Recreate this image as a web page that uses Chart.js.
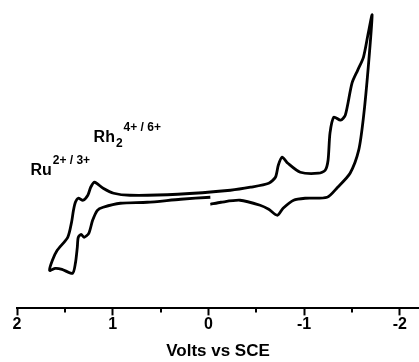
<!DOCTYPE html>
<html>
<head>
<meta charset="utf-8">
<script src="https://cdn.jsdelivr.net/npm/chart.js@4/dist/chart.umd.min.js"></script>
<style>
  html, body { margin: 0; padding: 0; background: #fff; }
  #wrap { width: 419px; height: 362px; }
</style>
</head>
<body>
<div id="wrap"><canvas id="cv" width="419" height="362"></canvas></div>
<script>
// ── data (potential in V vs SCE, current in arbitrary units) ─────────────────
const potential = [
  -0.02, -0.13, -0.33, -0.54, -0.63, -0.72, -0.78, -0.89, -1.01, -1.24, -1.35, -1.48, -1.57, -1.62, -1.67, -1.71,
  -1.67, -1.62, -1.56, -1.50, -1.43, -1.38, -1.31, -1.27, -1.25, -1.22, -1.15, -0.96, -0.83, -0.77, -0.73, -0.70,
  -0.63, -0.44, -0.23, 0.32, 0.82, 0.99, 1.10, 1.19, 1.23, 1.26, 1.31, 1.36, 1.39, 1.41, 1.43, 1.47, 1.58, 1.63, 1.66,
  1.60, 1.53, 1.42, 1.39, 1.37, 1.36, 1.33, 1.30, 1.25, 1.21, 1.16, 1.10, 0.92, 0.64, 0.29, -0.02
];
const current = [
  10.4, 10.6, 10.8, 10.3, 9.9, 9.3, 10.0, 10.8, 11.0, 11.1, 12.1, 13.5, 15.8, 19.1, 24.1, 29.3,
  27.5, 25.1, 23.8, 22.5, 19.3, 18.8, 19.1, 17.5, 14.8, 13.8, 13.5, 13.6, 14.5, 15.1, 14.3, 13.1,
  12.5, 12.1, 11.8, 11.4, 11.3, 11.5, 12.0, 12.6, 12.1, 11.3, 10.8, 11.0, 10.6, 9.8, 8.6, 7.1, 5.8, 4.8, 3.8,
  4.0, 3.9, 3.5, 4.5, 6.1, 7.1, 7.4, 7.1, 7.5, 8.8, 9.8, 10.1, 10.5, 10.6, 10.9, 11.1
];
const xTickStep = 0.5;
const xMin = -2.2, xMax = 2;
const axisTitle = 'Volts vs SCE';

// peak labels: base, subscript, superscript, anchored at (V, I)
const labelText = [
  { base: 'Ru', sub: '', sup: '2+ / 3+', v: 1.86, i: 13.3 },
  { base: 'Rh', sub: '2', sup: '4+ / 6+', v: 1.20, i: 16.6 }
];

const FONT = '"Liberation Sans", Arial, sans-serif';
const isWhole = v => Math.abs(v - Math.round(v)) < 1e-6;

// ── plugins ──────────────────────────────────────────────────────────────────
const minorTicks = {
  id: 'minorTicks',
  afterDraw(chart) {
    const sx = chart.scales.x, ctx = chart.ctx, y0 = chart.chartArea.bottom;
    ctx.save();
    ctx.strokeStyle = '#000'; ctx.lineWidth = 2;
    sx.ticks.forEach(t => {
      if (isWhole(t.value)) return;
      const px = Math.round(sx.getPixelForValue(t.value));
      ctx.beginPath(); ctx.moveTo(px, y0); ctx.lineTo(px, y0 + 4); ctx.stroke();
    });
    ctx.restore();
  }
};

const peakLabels = {
  id: 'peakLabels',
  afterDraw(chart) {
    const { ctx, scales: { x, y } } = chart;
    ctx.save();
    ctx.fillStyle = '#000'; ctx.textBaseline = 'alphabetic'; ctx.textAlign = 'left';
    labelText.forEach(l => {
      let px = x.getPixelForValue(l.v);
      const py = y.getPixelForValue(l.i);
      ctx.font = `bold 16px ${FONT}`;
      ctx.fillText(l.base, px, py);
      px += ctx.measureText(l.base).width + 1;
      if (l.sub) {
        ctx.font = `bold 12px ${FONT}`;
        ctx.fillText(l.sub, px, py + 5);
        px += ctx.measureText(l.sub).width + 1;
      }
      ctx.font = `bold 12px ${FONT}`;
      ctx.fillText(l.sup, px, py - 11);
    });
    ctx.restore();
  }
};

new Chart(document.getElementById('cv'), {
  type: 'scatter',
  data: {
    datasets: [{
      data: potential.map((v, k) => ({ x: v, y: current[k] })),
      showLine: true,
      borderColor: '#000',
      borderWidth: 2.8,
      pointRadius: 0,
      tension: 0.25,
      fill: false
    }]
  },
  options: {
    responsive: false,
    animation: false,
    layout: { padding: { left: 17, right: 0, top: 0, bottom: 0 } },
    plugins: { legend: { display: false }, tooltip: { enabled: false } },
    scales: {
      x: {
        type: 'linear', reverse: true, min: xMin, max: xMax,
        afterBuildTicks: s => { s.ticks = s.ticks.filter(t => isWhole(t.value / xTickStep)); },
        ticks: {
          stepSize: xTickStep, includeBounds: false, autoSkip: false, maxRotation: 0, padding: 0,
          color: '#000', font: { family: FONT, size: 16, weight: 'bold' },
          callback: v => isWhole(v) ? String(Math.round(v)) : ''
        },
        grid: {
          drawOnChartArea: false, tickLength: 7, tickWidth: 2,
          tickColor: c => (c.tick && isWhole(c.tick.value)) ? '#000' : 'rgba(0,0,0,0)'
        },
        border: { color: '#000', width: 2 },
        title: {
          display: true, text: axisTitle, color: '#000',
          font: { family: FONT, size: 17, weight: 'bold' }, padding: { top: 7, bottom: 0 }
        }
      },
      y: { display: false, min: 0, max: 30.8 }
    }
  },
  plugins: [minorTicks, peakLabels]
});
</script>
</body>
</html>
